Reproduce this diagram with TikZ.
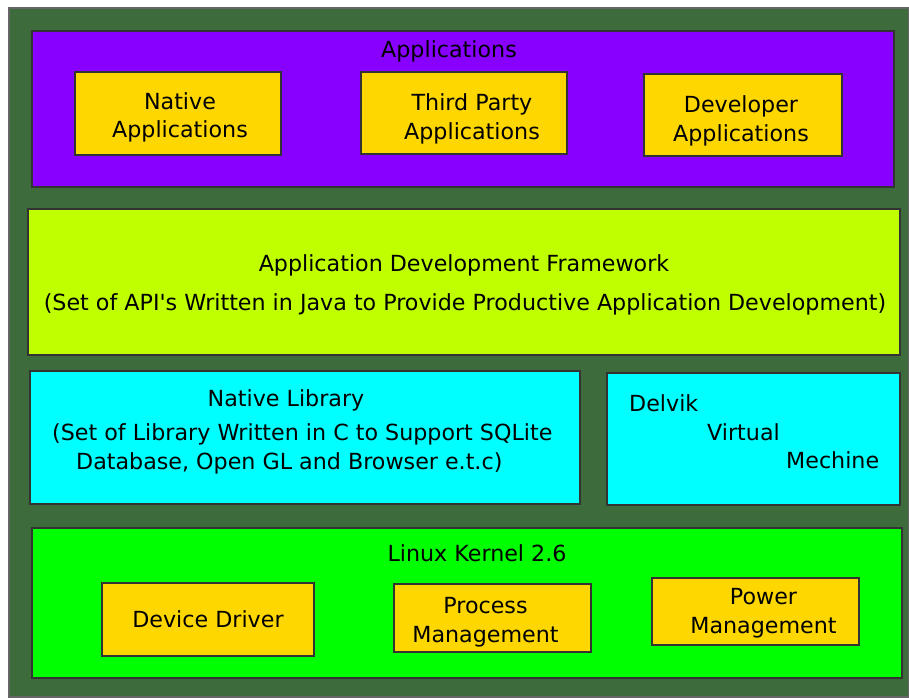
\documentclass[tikz,border=0pt]{standalone}
\usepackage{fontspec}
\setmainfont{DejaVu Sans}
\usepackage{tikz}
\usetikzlibrary{positioning}
\definecolor{bggreen}{HTML}{3E6B3C}
\definecolor{apppurple}{HTML}{8800FF}
\definecolor{boxgold}{HTML}{FFD700}
\definecolor{fwlime}{HTML}{BFFF00}
\definecolor{libcyan}{HTML}{00FFFF}
\definecolor{kerngreen}{HTML}{00FF00}

\begin{document}
\begin{tikzpicture}[x=1pt, y=-1pt,
        font=\fontsize{22.2}{28.5}\selectfont,
        layer/.style = {draw=black!80, line width=1.6pt, rectangle, inner sep=0pt},
        part/.style = {layer, fill=boxgold},
        txt/.style = {inner sep=0pt, align=center}]
        \useasboundingbox (0,0) rectangle (909,697);
        \fill[white] (0,0) rectangle (909,697);
        \node[layer, fill=bggreen, draw=black!60, minimum width=900, minimum height=689] at (459, 352.5) (bg) {};
        \node[layer, fill=apppurple, minimum width=862, minimum height=156] at (463, 109) (apps) {};
        \node[txt] at (449, 51) (appstitle) {Applications};
        \node[part, minimum width=206, minimum height=83, label={[txt, xshift=2, yshift=-4]center:Native\\Applications}] at (178, 113.5) (native) {};
        \node[part, minimum width=206, minimum height=82, label={[txt, xshift=8, yshift=-6]center:Third Party\\Applications}] at (464, 113) (third) {};
        \node[part, minimum width=198, minimum height=82, label={[txt, xshift=-2, yshift=-6]center:Developer\\Applications}] at (743, 115) (developer) {};
        \node[layer, fill=fwlime, minimum width=872, minimum height=146] at (464, 282) (frame) {};
        \node[txt] at (464, 265) (frametitle) {Application Development Framework};
        \node[txt] at (465, 304) (framenote) {(Set of API\textquotesingle s Written in Java to Provide Productive Application Development)};
        \node[layer, fill=libcyan, minimum width=550, minimum height=133] at (305, 437.5) (lib) {};
        \node[txt] at (286, 400) (libtitle) {Native Library};
        \node[txt, align=left, anchor=west] at (52, 449) (libnote) {(Set of Library Written in C to Support SQLite\\\hspace*{24pt}Database, Open GL and Browser e.t.c)};
        \node[layer, fill=libcyan, minimum width=293, minimum height=132] at (753.5, 439) (dvm) {};
        \node[txt, align=left, anchor=west] at (629, 432) (dvmtext) {Delvik\\\hspace*{78pt}Virtual\\\hspace*{157pt}Mechine};
        \node[layer, fill=kerngreen, minimum width=870, minimum height=150] at (467, 603) (kernel) {};
        \node[txt] at (477, 553) (kerneltitle) {Linux Kernel 2.6};
        \node[part, minimum width=212, minimum height=73, label={[txt]center:Device Driver}] at (208, 619.5) (driver) {};
        \node[part, minimum width=197, minimum height=68, label={[txt, xshift=-7, yshift=-4]center:Process\\Management}] at (492.5, 618) (process) {};
        \node[part, minimum width=207, minimum height=67, label={[txt, xshift=8, yshift=-1.5]center:Power\\Management}] at (755.5, 611.5) (power) {};
\end{tikzpicture}
\end{document}
